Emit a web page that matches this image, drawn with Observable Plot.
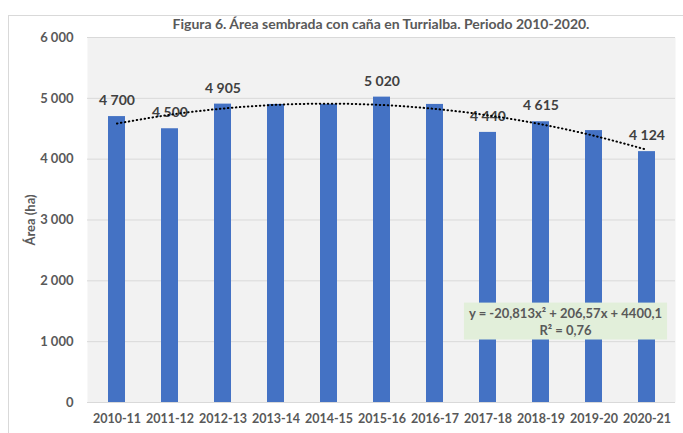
<!DOCTYPE html>
<html><head><meta charset="utf-8">
<script src="https://cdn.jsdelivr.net/npm/d3@7"></script>
<script src="https://cdn.jsdelivr.net/npm/@observablehq/plot@0.6"></script>
<style>
body{margin:0;background:#fff;font-family:Lato,sans-serif;}
#wrap{position:relative;width:683px;height:433px;overflow:hidden;}
#border{position:absolute;left:8px;top:15px;width:700px;height:440px;border:1px solid #d9d9d9;box-sizing:border-box;}
#chart{position:absolute;left:0;top:0;}
#title{position:absolute;top:15px;left:87px;width:588px;line-height:18px;text-align:center;font:bold 14px Lato,sans-serif;color:#595959;}
</style></head><body>
<div id="wrap"><div id="border"></div><div id="chart"></div><div id="title">Figura 6. Área sembrada con caña en Turrialba. Periodo 2010-2020.</div></div>
<script>
const categories = ["2010-11","2011-12","2012-13","2013-14","2014-15","2015-16","2016-17","2017-18","2018-19","2019-20","2020-21"];
const areas = [4700, 4500, 4905, 4900, 4900, 5020, 4900, 4440, 4615, 4470, 4124];
const labeledCategories = ["2010-11","2011-12","2012-13","2015-16","2017-18","2018-19","2020-21"];
const yTicks = [0, 1000, 2000, 3000, 4000, 5000, 6000];
const trendCoefficients = [-20.813, 206.57, 4400.1];
const equationLines = ["y = -20,813x² + 206,57x + 4400,1", "R² = 0,76"];

const fmt = d3.formatLocale({decimal: ",", thousands: " ", grouping: [3], currency: ["", ""]}).format(",");
const rows = categories.map((c, i) => ({cat: c, area: areas[i], idx: i + 1}));
const [ta, tb, tc] = trendCoefficients;
const trend = rows.map(r => ({cat: r.cat, v: ta * r.idx ** 2 + tb * r.idx + tc}));

const plot = Plot.plot({
  width: 683, height: 433,
  marginLeft: 87, marginRight: 8, marginTop: 37, marginBottom: 31,
  style: {fontFamily: "Lato, sans-serif", background: "transparent", color: "#595959", overflow: "visible"},
  x: {domain: categories, paddingInner: 0.68, paddingOuter: 0.34},
  y: {domain: [0, 6000]},
  marks: [
    Plot.frame({fill: "#f2f2f2", stroke: null}),
    Plot.ruleY(yTicks, {stroke: "#d9d9d9", strokeOpacity: 1}),
    Plot.barY(rows, {x: "cat", y: "area", fill: "#4472c4"}),
    Plot.text(rows.filter(r => labeledCategories.includes(r.cat)), {x: "cat", y: "area", text: d => fmt(d.area), dy: -16, fill: "#404040", fontSize: 14, fontWeight: "bold"}),
    Plot.line(trend, {x: "cat", y: "v", curve: "natural", stroke: "#000", strokeWidth: 2, strokeLinecap: "round", strokeDasharray: "0.5,3.5"}),
    Plot.text([equationLines.join("\n")], {frameAnchor: "bottom-right", dx: -110, dy: -68, textAnchor: "middle", lineAnchor: "bottom", fill: "#595959", fontSize: 13, fontWeight: "bold", lineHeight: 1.3, className: "eq"}),
    Plot.axisY({ticks: yTicks, tickFormat: fmt, tickSize: 0, tickPadding: 14, fontSize: 13, fontWeight: "bold", label: "Área (ha)", labelAnchor: "center", labelOffset: 62, labelArrow: "none"}),
    Plot.axisX({tickSize: 0, tickPadding: 12, fontSize: 12.5, fontWeight: "bold", label: null})
  ]
});
document.getElementById("chart").appendChild(plot);
const eqG = d3.select(plot).select("g.eq");
const bb = eqG.node().getBBox();
eqG.insert("rect", ":first-child")
  .attr("x", bb.x - 5).attr("y", bb.y - 2)
  .attr("width", bb.width + 10).attr("height", bb.height + 4)
  .attr("fill", "#e2efda");
</script>
</body></html>
